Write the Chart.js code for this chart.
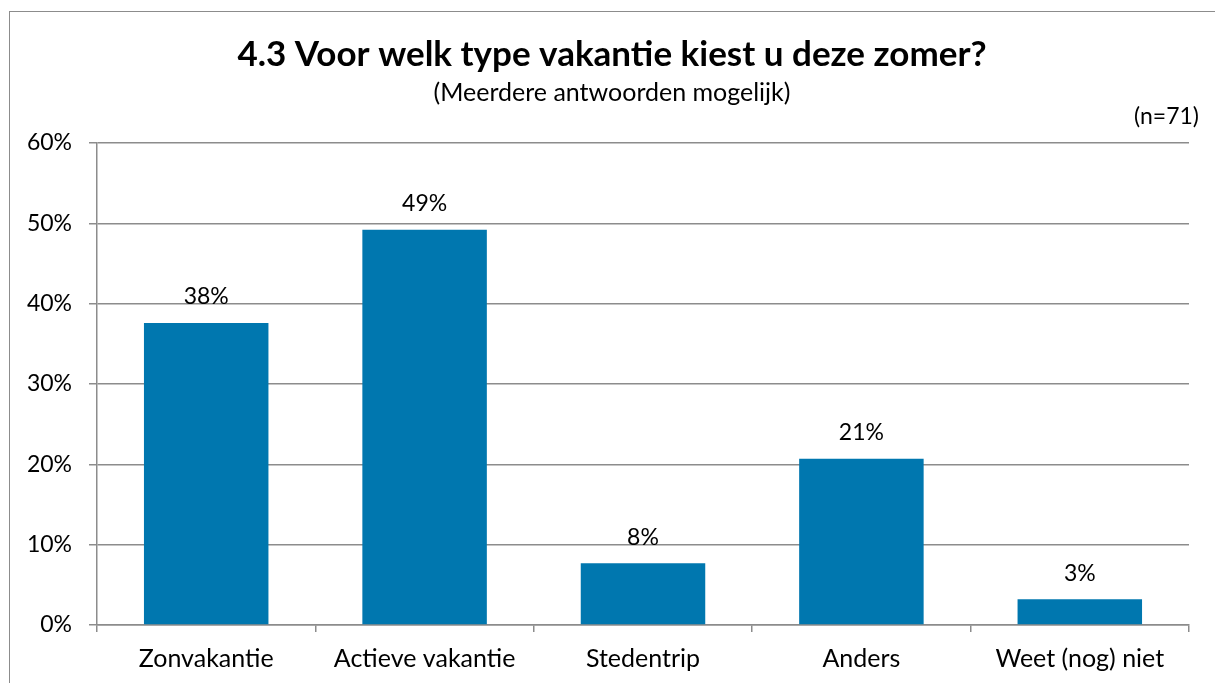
<!DOCTYPE html>
<html>
<head>
<meta charset="utf-8">
<script src="https://cdn.jsdelivr.net/npm/chart.js@4/dist/chart.umd.min.js"></script>
<style>
  html, body { margin: 0; padding: 0; background: #fff; overflow: hidden; }
  #wrap { position: relative; width: 1215px; height: 683px; }
  #frame { position: absolute; left: 9px; top: 11px; width: 1300px; height: 800px; border: 1px solid #8c8c8c; box-sizing: border-box; }
  canvas { position: absolute; left: 0; top: 0; }
</style>
</head>
<body>
<div id="wrap">
  <div id="frame"></div>
  <canvas id="chart" width="1215" height="683"></canvas>
</div>
<script>
const categories = ['Zonvakantie', 'Actieve vakantie', 'Stedentrip', 'Anders', 'Weet (nog) niet'];
const values = [37.6, 49.2, 7.7, 20.7, 3.2];
const valueLabels = ['38%', '49%', '8%', '21%', '3%'];
const yTicks = [0, 10, 20, 30, 40, 50, 60];

const titleText = '4.3 Voor welk type vakantie kiest u deze zomer?';
const subtitleText = '(Meerdere antwoorden mogelijk)';
const noteText = '(n=71)';

const FONT = 'Lato, "Open Sans", sans-serif';
const gridColor = '#8c8c8c';

// title block (centred on the whole frame, not the plot) + bar labels
const annotations = {
  id: 'annotations',
  afterDatasetsDraw(chart) {
    const ctx = chart.ctx;
    const meta = chart.getDatasetMeta(0);
    const mid = 9 + (chart.width - 9) / 2;
    ctx.save();
    ctx.fillStyle = '#000';
    ctx.textAlign = 'center';
    ctx.textBaseline = 'alphabetic';

    ctx.font = 'bold 35px ' + FONT;
    ctx.fillText(titleText, mid, 66);
    ctx.font = '25px ' + FONT;
    ctx.fillText(subtitleText, mid, 101);

    ctx.textBaseline = 'middle';
    ctx.font = '23px ' + FONT;
    meta.data.forEach((bar, i) => {
      ctx.fillText(valueLabels[i], bar.x, bar.y - 26);
    });
    ctx.textAlign = 'right';
    ctx.fillText(noteText, chart.width - 16, 117);
    ctx.restore();
  }
};

new Chart(document.getElementById('chart'), {
  type: 'bar',
  plugins: [annotations],
  data: {
    labels: categories,
    datasets: [{
      data: values,
      backgroundColor: '#0077af',
      categoryPercentage: 1,
      barPercentage: 0.57
    }]
  },
  options: {
    responsive: false,
    animation: false,
    layout: { padding: { left: 0, right: 26, top: 143, bottom: 0 } },
    plugins: {
      legend: { display: false },
      tooltip: { enabled: false },
      title: { display: false }
    },
    scales: {
      x: {
        afterFit: (s) => { s.height = 58; },
        grid: { display: true, drawOnChartArea: false, offset: true, color: gridColor, tickLength: 7, lineWidth: 1.5 },
        border: { color: gridColor, width: 1.5 },
        ticks: { color: '#000', font: { family: FONT, size: 25 }, padding: 12, maxRotation: 0 }
      },
      y: {
        min: 0,
        max: 60,
        afterFit: (s) => { s.width = 97; },
        afterBuildTicks: (s) => { s.ticks = yTicks.map(v => ({ value: v })); },
        grid: { color: gridColor, tickLength: 8, lineWidth: 1.5 },
        border: { color: gridColor, width: 1.5 },
        ticks: { color: '#000', font: { family: FONT, size: 23 }, padding: 17, callback: (v) => v + '%' }
      }
    }
  }
});
</script>
</body>
</html>
